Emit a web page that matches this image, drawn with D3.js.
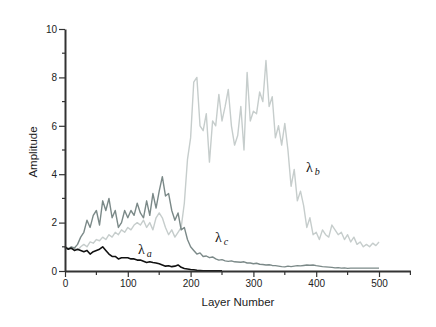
<!DOCTYPE html>
<head>
<meta charset="utf-8">
<style>
  body { margin:0; background:#fff; }
  svg { display:block; }
  .tick text { font-family: "Liberation Sans", Arial, sans-serif; font-size:10px; fill:#222; }
  .axis path, .axis line { stroke:#333; }
  .lam { font-family: "Liberation Serif", "Times New Roman", serif; fill:#111; }
</style>
<script src="https://d3js.org/d3.v7.min.js"></script>
</head>
<body>
<script>

var width = 436;
var height = 327;

// layer index, one sample every 5 layers
var layers = d3.range(0, 501, 5);

// lambda_b (light grey)
var lamB = [1.0,0.95,0.9,0.95,0.85,1.0,1.1,1.0,1.2,1.15,
  1.3,1.25,1.4,1.3,1.5,1.4,1.6,1.5,1.7,1.6,
  1.8,1.7,1.9,2.0,1.9,2.1,1.8,2.0,1.7,2.2,
  2.4,2.2,1.8,1.5,1.7,1.4,1.6,1.8,2.8,4.6,
  5.5,7.8,8.0,6.0,5.8,6.5,4.5,6.2,6.0,7.3,
  6.2,6.8,7.5,6.0,5.2,5.6,6.8,5.0,8.2,6.2,
  6.6,6.5,7.4,7.0,8.7,6.8,7.2,5.5,6.0,5.2,
  6.1,5.0,3.5,4.2,2.9,3.3,2.7,1.8,2.2,1.5,
  1.6,1.3,1.7,1.5,1.4,1.9,1.7,1.5,1.6,1.3,
  1.5,1.2,1.4,1.1,1.2,1.0,1.1,1.0,1.15,1.05,1.2];

// lambda_c (mid grey)
var lamC = [0.95,0.9,1.0,0.95,1.1,1.4,1.6,2.1,1.8,2.3,
  2.5,1.9,2.9,2.5,3.0,2.2,2.5,1.8,2.0,2.5,
  2.2,2.5,2.3,2.8,2.4,2.2,2.9,2.3,3.2,2.6,
  3.3,3.9,3.1,3.2,2.5,2.1,2.4,1.7,1.8,1.3,
  1.0,0.85,0.7,0.75,0.6,0.62,0.55,0.58,0.5,0.45,
  0.47,0.42,0.4,0.42,0.38,0.37,0.36,0.38,0.33,0.33,
  0.3,0.32,0.28,0.27,0.25,0.26,0.23,0.22,0.2,0.18,
  0.17,0.2,0.18,0.2,0.22,0.21,0.23,0.25,0.24,0.25,
  0.22,0.2,0.18,0.17,0.16,0.15,0.13,0.14,0.12,0.13,
  0.11,0.12,0.12,0.12,0.12,0.12,0.12,0.12,0.12,0.12,0.12];

// lambda_a (black), stops at layer 250
var lamA = [1.0,0.9,0.95,0.85,0.9,0.85,0.8,0.85,0.7,0.8,
  0.85,0.9,1.0,0.85,0.7,0.6,0.6,0.5,0.55,0.55,
  0.55,0.5,0.5,0.45,0.45,0.4,0.35,0.38,0.35,0.33,
  0.3,0.25,0.2,0.22,0.18,0.2,0.25,0.15,0.1,0.08,
  0.06,0.05,0.03,0.02,0.01,0.01,0.01,0.01,0.01,0.01,0.01];

var xTicks = [0, 100, 200, 300, 400, 500];
var xMinor = [50, 150, 250, 350, 450, 550];
var yTicks = [0, 2, 4, 6, 8, 10];
var yMinor = [1, 3, 5, 7, 9];

var x = d3.scaleLinear().domain([0, 550]).range([65, 410.4]);
var y = d3.scaleLinear().domain([0, 10]).range([271, 29]);

var svg = d3.select("body").append("svg")
    .attr("width", width)
    .attr("height", height);

function series(vals, col, w) {
  var line = d3.line()
      .x(function(d, i) { return x(layers[i]); })
      .y(function(d) { return y(d); });
  svg.append("path")
      .datum(vals)
      .attr("fill", "none")
      .attr("stroke", col)
      .attr("stroke-width", w)
      .attr("stroke-linejoin", "round")
      .attr("d", line);
}

series(lamB, "#c6cdcc", 1.4);
series(lamC, "#7b8988", 1.4);
series(lamA, "#111", 1.6);

// axes
var gx = svg.append("g").attr("class", "axis")
    .attr("transform", "translate(0," + y(0) + ")")
    .call(d3.axisBottom(x).tickValues(xTicks).tickSize(6).tickSizeOuter(0).tickPadding(3));
gx.append("g").selectAll("line").data(xMinor).enter().append("line")
    .attr("x1", function(d) { return x(d); }).attr("x2", function(d) { return x(d); })
    .attr("y1", 0).attr("y2", 4).attr("stroke", "#333").attr("stroke-width", 1.2);

var gy = svg.append("g").attr("class", "axis")
    .attr("transform", "translate(" + x(0) + ",0)")
    .call(d3.axisLeft(y).tickValues(yTicks).tickSize(6).tickSizeOuter(0).tickPadding(2));
gy.append("g").selectAll("line").data(yMinor).enter().append("line")
    .attr("y1", function(d) { return y(d); }).attr("y2", function(d) { return y(d); })
    .attr("x1", 0).attr("x2", -3).attr("stroke", "#333").attr("stroke-width", 1.2);

svg.selectAll(".axis path.domain").attr("stroke-width", 2);
svg.selectAll(".axis .tick line").attr("stroke-width", 1.2);

// axis titles
svg.append("text")
    .attr("x", 238).attr("y", 306)
    .attr("text-anchor", "middle")
    .style("font-family", "Liberation Sans, Arial, sans-serif")
    .style("font-size", "11.5px")
    .attr("fill", "#222")
    .text("Layer Number");

svg.append("text")
    .attr("transform", "translate(37,152) rotate(-90)")
    .attr("text-anchor", "middle")
    .style("font-family", "Liberation Sans, Arial, sans-serif")
    .style("font-size", "11.5px")
    .attr("fill", "#222")
    .text("Amplitude");

// series labels
var labels = [
  {t: "a", x: 138, y: 254},
  {t: "c", x: 215, y: 242},
  {t: "b", x: 306, y: 172}
];
labels.forEach(function(l) {
  var tx = svg.append("text").attr("class", "lam").attr("x", l.x).attr("y", l.y);
  tx.append("tspan").style("font-size", "14px").text("λ");
  tx.append("tspan").attr("dx", 2).attr("dy", 3)
    .style("font-size", "10px").style("font-style", "italic").text(l.t);
});

</script>
</body>
